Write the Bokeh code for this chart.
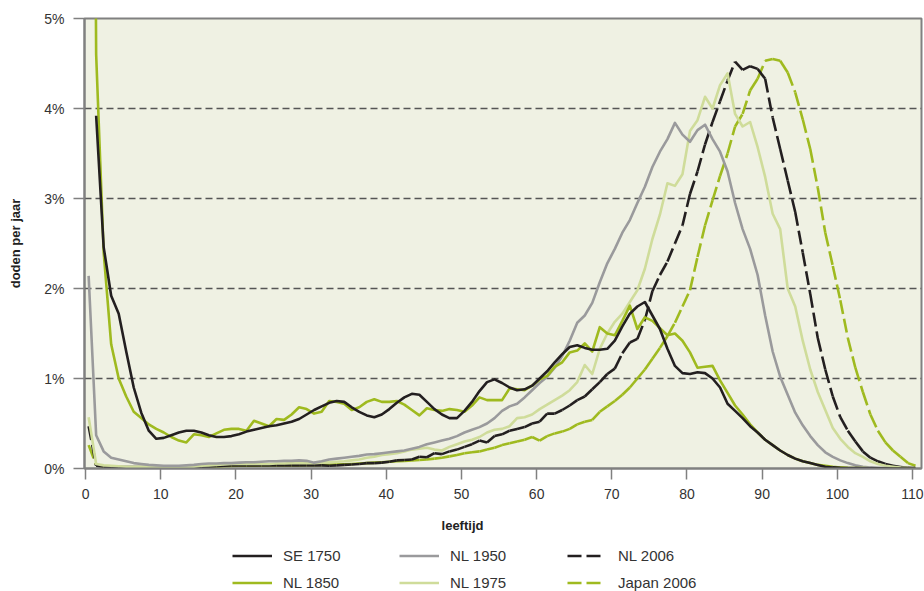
import numpy as np
from bokeh.plotting import figure
from bokeh.layouts import column
from bokeh.models import FixedTicker, Legend, LegendItem, Label, Range1d
from bokeh.embed import file_html
from bokeh.resources import INLINE

# ---------------- data (deaths per year, % of initial cohort) ----------------
AGES = list(range(111))

SE_1750 = [
    None, 3.92, 2.46, 1.92, 1.72, 1.30, 0.90, 0.62, 0.42, 0.33,
    0.34, 0.37, 0.40, 0.42, 0.42, 0.40, 0.37, 0.35, 0.35, 0.36,
    0.38, 0.41, 0.43, 0.45, 0.47, 0.48, 0.50, 0.52, 0.55, 0.60,
    0.65, 0.69, 0.73, 0.75, 0.74, 0.68, 0.63, 0.59, 0.57, 0.60,
    0.66, 0.73, 0.79, 0.83, 0.82, 0.74, 0.66, 0.60, 0.56, 0.56,
    0.64, 0.74, 0.86, 0.96, 0.99, 0.95, 0.90, 0.87, 0.88, 0.92,
    1.00, 1.08, 1.18, 1.27, 1.35, 1.37, 1.34, 1.32, 1.32, 1.33,
    1.42, 1.58, 1.72, 1.80, 1.85, 1.70, 1.55, 1.33, 1.14, 1.06,
    1.05, 1.07, 1.06, 1.00, 0.90, 0.72, 0.64, 0.56, 0.47, 0.40,
    0.32, 0.26, 0.20, 0.15, 0.11, 0.08, 0.06, 0.04, 0.02, 0.012,
    0.008, 0.006, 0.004, 0.003, 0.002, 0.0015, 0.001, 0.0008, 0.0005, 0.0003, 0.0002,
]

NL_1850 = [
    19.0, 4.60, 2.40, 1.38, 1.00, 0.80, 0.63, 0.56, 0.49, 0.44,
    0.40, 0.35, 0.31, 0.29, 0.38, 0.37, 0.35, 0.39, 0.43, 0.44,
    0.44, 0.42, 0.53, 0.50, 0.47, 0.55, 0.54, 0.60, 0.68, 0.66,
    0.61, 0.63, 0.75, 0.74, 0.72, 0.65, 0.68, 0.74, 0.77, 0.74,
    0.74, 0.75, 0.71, 0.65, 0.59, 0.67, 0.65, 0.64, 0.66, 0.65,
    0.63, 0.70, 0.79, 0.76, 0.76, 0.76, 0.89, 0.88, 0.87, 0.92,
    0.99, 1.03, 1.13, 1.18, 1.29, 1.31, 1.39, 1.30, 1.57, 1.50,
    1.48, 1.64, 1.81, 1.55, 1.68, 1.64, 1.56, 1.48, 1.50, 1.42,
    1.29, 1.12, 1.13, 1.14, 0.98, 0.84, 0.70, 0.60, 0.49, 0.40,
    0.32, 0.26, 0.20, 0.15, 0.11, 0.08, 0.06, 0.04, 0.03, 0.02,
    0.012, 0.008, 0.006, 0.004, 0.003, 0.002, 0.001, 0.001, 0.0005, 0.0003, 0.0002,
]

NL_1950 = [
    2.14, 0.37, 0.19, 0.12, 0.10, 0.08, 0.06, 0.05, 0.04, 0.035,
    0.03, 0.03, 0.03, 0.035, 0.04, 0.05, 0.055, 0.055, 0.06, 0.06,
    0.065, 0.07, 0.07, 0.075, 0.08, 0.08, 0.085, 0.085, 0.09, 0.085,
    0.065, 0.08, 0.10, 0.11, 0.12, 0.13, 0.14, 0.155, 0.16, 0.17,
    0.18, 0.19, 0.20, 0.22, 0.24, 0.27, 0.29, 0.31, 0.33, 0.36,
    0.40, 0.43, 0.46, 0.50, 0.56, 0.64, 0.69, 0.72, 0.79, 0.87,
    0.95, 1.02, 1.12, 1.25, 1.42, 1.62, 1.70, 1.84, 2.07, 2.28,
    2.44, 2.62, 2.76, 2.95, 3.13, 3.35, 3.52, 3.66, 3.84, 3.71,
    3.63, 3.76, 3.82, 3.66, 3.52, 3.30, 2.95, 2.66, 2.44, 2.15,
    1.70, 1.30, 1.02, 0.82, 0.62, 0.48, 0.36, 0.26, 0.18, 0.13,
    0.09, 0.06, 0.035, 0.02, 0.012, 0.008, 0.005, 0.003, 0.002, 0.001, 0.001,
]

NL_1975 = [
    0.57, 0.05, 0.035, 0.03, 0.025, 0.02, 0.02, 0.02, 0.02, 0.02,
    0.02, 0.02, 0.02, 0.02, 0.02, 0.03, 0.035, 0.04, 0.045, 0.05,
    0.05, 0.05, 0.05, 0.05, 0.05, 0.055, 0.055, 0.06, 0.06, 0.06,
    0.06, 0.065, 0.07, 0.075, 0.08, 0.09, 0.10, 0.12, 0.13, 0.15,
    0.16, 0.17, 0.19, 0.21, 0.22, 0.23, 0.21, 0.20, 0.24, 0.27,
    0.30, 0.32, 0.35, 0.40, 0.43, 0.44, 0.47, 0.56, 0.57, 0.60,
    0.66, 0.71, 0.76, 0.81, 0.87, 0.96, 1.15, 1.05, 1.33, 1.50,
    1.63, 1.72, 1.85, 1.98, 2.22, 2.55, 2.82, 3.17, 3.14, 3.27,
    3.75, 3.87, 4.13, 4.00, 4.26, 4.39, 3.94, 3.80, 3.85, 3.57,
    3.24, 2.83, 2.66, 2.00, 1.80, 1.42, 1.10, 0.85, 0.65, 0.45,
    0.33, 0.24, 0.17, 0.13, 0.08, 0.05, 0.03, 0.02, 0.01, 0.005, 0.003,
]

NL_2006 = [
    0.47, 0.03, 0.02, 0.015, 0.015, 0.015, 0.015, 0.015, 0.015, 0.015,
    0.015, 0.015, 0.015, 0.015, 0.015, 0.015, 0.02, 0.025, 0.03, 0.035,
    0.035, 0.035, 0.035, 0.035, 0.035, 0.035, 0.035, 0.035, 0.035, 0.035,
    0.035, 0.035, 0.03, 0.035, 0.04, 0.045, 0.05, 0.06, 0.06, 0.065,
    0.075, 0.09, 0.095, 0.10, 0.13, 0.125, 0.17, 0.16, 0.19, 0.21,
    0.24, 0.27, 0.31, 0.29, 0.36, 0.38, 0.42, 0.44, 0.46, 0.50,
    0.52, 0.61, 0.61, 0.65, 0.70, 0.76, 0.80, 0.88, 0.96, 1.05,
    1.11, 1.28, 1.40, 1.44, 1.65, 1.97, 2.15, 2.30, 2.50, 2.70,
    3.05, 3.30, 3.60, 3.85, 4.08, 4.31, 4.52, 4.43, 4.47, 4.44,
    4.33, 3.90, 3.55, 3.20, 2.85, 2.40, 1.94, 1.45, 1.10, 0.80,
    0.57, 0.42, 0.30, 0.19, 0.12, 0.08, 0.05, 0.03, 0.015, 0.008, 0.004,
]

JAPAN_2006 = [
    0.26, 0.04, 0.02, 0.012, 0.012, 0.012, 0.012, 0.012, 0.012, 0.012,
    0.012, 0.012, 0.012, 0.012, 0.012, 0.015, 0.018, 0.02, 0.025, 0.028,
    0.03, 0.03, 0.032, 0.033, 0.033, 0.034, 0.034, 0.035, 0.035, 0.036,
    0.038, 0.04, 0.042, 0.045, 0.048, 0.05, 0.055, 0.06, 0.065, 0.07,
    0.075, 0.08, 0.085, 0.09, 0.095, 0.10, 0.11, 0.12, 0.135, 0.15,
    0.17, 0.18, 0.19, 0.21, 0.23, 0.26, 0.28, 0.30, 0.32, 0.35,
    0.31, 0.36, 0.39, 0.41, 0.44, 0.49, 0.52, 0.54, 0.63, 0.69,
    0.75, 0.82, 0.90, 1.00, 1.10, 1.22, 1.34, 1.47, 1.62, 1.80,
    1.98, 2.35, 2.70, 2.98, 3.25, 3.50, 3.80, 3.94, 4.20, 4.33,
    4.53, 4.55, 4.53, 4.40, 4.18, 3.88, 3.55, 3.12, 2.62, 2.25,
    1.87, 1.45, 1.12, 0.85, 0.60, 0.42, 0.29, 0.20, 0.13, 0.06, 0.03,
]

Y_TICKS = [0, 1, 2, 3, 4, 5]
Y_LABELS = ["0%", "1%", "2%", "3%", "4%", "5%"]
X_TICKS = list(range(0, 111, 10))
SERIES_NAMES = ["SE 1750", "NL 1850", "NL 1950", "NL 1975", "NL 2006", "Japan 2006"]

# ---------------- styling ----------------
FONT = "Liberation Sans"
BLACK = "#231f20"
GREEN = "#9fba1f"
GREY = "#9a9a9c"
LIGHT = "#cfdc9a"
AXIS = "#808080"
LW = 2.6
DASH = "14 5"
X_SHIFT = 0.4  # points drawn slightly right of the integer age

p = figure(width=924, height=510,
           x_range=Range1d(-0.15, 111.2), y_range=Range1d(0, 5),
           output_backend="svg", toolbar_location=None,
           min_border_left=84, min_border_top=18, min_border_right=3,
           min_border_bottom=42)
p.background_fill_color = "#eff1e3"
p.border_fill_color = "white"
p.outline_line_color = AXIS
p.outline_line_width = 2

for ax in (p.xaxis[0], p.yaxis[0]):
    ax.axis_line_color = AXIS
    ax.axis_line_width = 2
    ax.major_tick_line_color = AXIS
    ax.major_tick_line_width = 1.5
    ax.major_tick_out = 11
    ax.major_tick_in = 0
    ax.minor_tick_line_color = None
    ax.major_label_text_font = FONT
    ax.major_label_text_font_size = "14px"
    ax.major_label_text_color = "#333333"
    ax.major_label_standoff = 9

p.xaxis.ticker = FixedTicker(ticks=X_TICKS)
p.yaxis.ticker = FixedTicker(ticks=Y_TICKS)
p.yaxis.major_label_overrides = {t: l for t, l in zip(Y_TICKS, Y_LABELS)}
p.yaxis.axis_label = "doden per jaar"
p.yaxis.axis_label_text_font = FONT
p.yaxis.axis_label_text_font_style = "bold"
p.yaxis.axis_label_text_font_size = "13px"
p.yaxis.axis_label_text_color = "#222222"
p.yaxis.axis_label_standoff = 18

p.xgrid.grid_line_color = None
p.ygrid.ticker = FixedTicker(ticks=[1, 2, 3, 4])
p.ygrid.grid_line_color = "#555555"
p.ygrid.grid_line_dash = "7 4"
p.ygrid.grid_line_width = 1.3


def xy(vals):
    x = np.array(AGES, dtype=float) + X_SHIFT
    y = np.array([np.nan if v is None else v for v in vals], dtype=float)
    return x, y


def solid(vals, color):
    x, y = xy(vals)
    p.line(x, y, line_color=color, line_width=LW, line_join="round")


def dashed(vals, color):
    # each yearly step is its own stroke, so the dash pattern restarts per step
    x, y = xy(vals)
    p.segment(x0=x[:-1], y0=y[:-1], x1=x[1:], y1=y[1:],
              line_color=color, line_width=LW, line_dash=DASH)


dashed(JAPAN_2006, GREEN)
dashed(NL_2006, BLACK)
solid(NL_1975, LIGHT)
solid(NL_1950, GREY)
solid(NL_1850, GREEN)
solid(SE_1750, BLACK)

# ---------------- lower strip: axis title and legend ----------------
# this strip's frame is aligned with the chart frame (84..921 px), so its
# x range is expressed in page pixels
q = figure(width=924, height=81, x_range=Range1d(84, 921), y_range=Range1d(81, 0),
           output_backend="svg", toolbar_location=None, min_border=0,
           x_axis_type=None, y_axis_type=None)
q.outline_line_color = None
q.background_fill_color = "white"
q.border_fill_color = "white"

q.add_layout(Label(x=462, y=15, text="leeftijd", text_align="center",
                   text_baseline="middle", text_font=FONT, text_font_style="bold",
                   text_font_size="13px", text_color="#222222"))

styles = [
    dict(line_color=BLACK), dict(line_color=GREEN),
    dict(line_color=GREY), dict(line_color=LIGHT),
    dict(line_color=BLACK, line_dash=DASH), dict(line_color=GREEN, line_dash=DASH),
]
keys = []
for name, st in zip(SERIES_NAMES, styles):
    # legend-only renderer: a single undefined point that draws nothing
    r = q.line(x=[np.nan], y=[np.nan], line_width=LW, **st)
    keys.append(LegendItem(label=name, renderers=[r]))

# (left edge px, glyph width, label standoff)
LEGEND_COLS = [(232, 40, 11), (399, 40, 11), (567, 34, 17)]
for k, (lx, gw, ls) in enumerate(LEGEND_COLS):
    leg = Legend(items=keys[2 * k: 2 * k + 2], location=(lx - 84, 0),
                 orientation="vertical", spacing=10, padding=0, margin=0,
                 glyph_width=gw, glyph_height=17, label_height=17,
                 label_standoff=ls, label_text_font=FONT,
                 label_text_font_size="15px", label_text_color="#333333",
                 label_text_baseline="middle",
                 background_fill_alpha=0, border_line_alpha=0)
    q.add_layout(leg)

layout = column(p, q, spacing=0)
open("out.html", "w").write(file_html(layout, INLINE))
